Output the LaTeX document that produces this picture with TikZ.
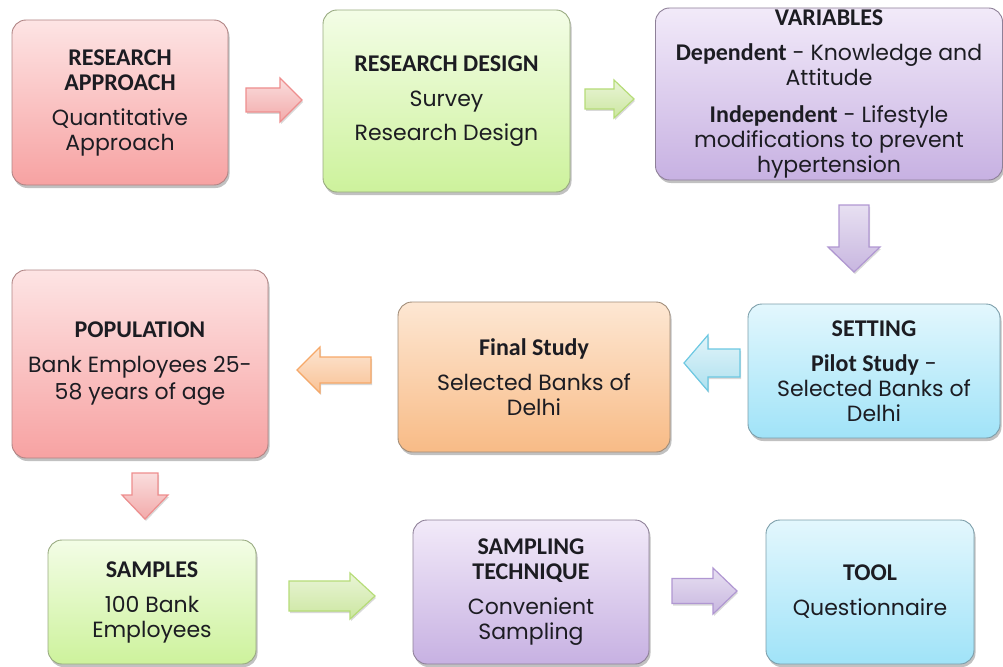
\documentclass[tikz,border=0pt]{standalone}
\usepackage{fontspec}
\setmainfont{Poppins}
\newfontfamily\headfont{Carlito}
\usetikzlibrary{shadows}

% box palettes: light top, deeper bottom, border
\definecolor{pinkT}{HTML}{FDE4E4}\definecolor{pinkB}{HTML}{F7A2A2}\definecolor{pinkD}{HTML}{B08484}
\definecolor{greenT}{HTML}{F3FDE6}\definecolor{greenB}{HTML}{CDF29C}\definecolor{greenD}{HTML}{98AA80}
\definecolor{purpT}{HTML}{F2EAF9}\definecolor{purpB}{HTML}{C7B1E2}\definecolor{purpD}{HTML}{8E8098}
\definecolor{blueT}{HTML}{E3F7FD}\definecolor{blueB}{HTML}{A0E3F8}\definecolor{blueD}{HTML}{7C9EAA}
\definecolor{orngT}{HTML}{FDE7D3}\definecolor{orngB}{HTML}{F8BB86}\definecolor{orngD}{HTML}{A08C78}
\definecolor{ink}{HTML}{1C1C22}
% block arrow colours
\definecolor{arPink}{HTML}{EE8E8E}
\definecolor{arGreen}{HTML}{B6DC78}
\definecolor{arPurple}{HTML}{B097D2}
\definecolor{arBlue}{HTML}{6CC8E2}
\definecolor{arOrange}{HTML}{F6A868}

% block arrow pointing along x: style, tail x, head base x, tip x, centre y, shaft half, head half
\newcommand{\harrow}[7]{%
  \draw[#1] (#2,#5-#6) -- (#3,#5-#6) -- (#3,#5-#7) -- (#4,#5)
    -- (#3,#5+#7) -- (#3,#5+#6) -- (#2,#5+#6) -- cycle;}
% block arrow pointing down: style, centre x, tail y, head base y, tip y, shaft half, head half
\newcommand{\varrow}[7]{%
  \draw[#1] (#2-#6,#3) -- (#2+#6,#3) -- (#2+#6,#4) -- (#2+#7,#4) -- (#2,#5)
    -- (#2-#7,#4) -- (#2-#6,#4) -- cycle;}

\newcommand{\hd}[1]{{\headfont\bfseries\fontsize{24}{26}\selectfont #1}}

\tikzset{
  box/.style={rounded corners=14pt, line width=0.9pt, align=center, inner sep=0pt,
    text=ink, font=\fontsize{22}{25}\selectfont,
    drop shadow={shadow xshift=1.5pt, shadow yshift=-3pt, opacity=0.35, fill=black!70}},
  pinkbox/.style={box, draw=pinkD, top color=pinkT, bottom color=pinkB},
  greenbox/.style={box, draw=greenD, top color=greenT, bottom color=greenB},
  purplebox/.style={box, draw=purpD, top color=purpT, bottom color=purpB},
  bluebox/.style={box, draw=blueD, top color=blueT, bottom color=blueB},
  orangebox/.style={box, draw=orngD, top color=orngT, bottom color=orngB},
  arr/.style={line width=1.2pt, line join=miter,
    drop shadow={shadow xshift=1pt, shadow yshift=-2pt, opacity=0.25, fill=black!60}},
  pinkar/.style={arr, draw=arPink, top color=arPink!30, bottom color=arPink!75},
  greenar/.style={arr, draw=arGreen, top color=arGreen!30, bottom color=arGreen!70},
  purplear/.style={arr, draw=arPurple, top color=arPurple!30, bottom color=arPurple!70},
  bluear/.style={arr, draw=arBlue, top color=arBlue!20, bottom color=arBlue!55},
  orangear/.style={arr, draw=arOrange, top color=arOrange!30, bottom color=arOrange!70},
}

\begin{document}
\begin{tikzpicture}[x=1pt, y=-1pt]
\useasboundingbox (0,0) rectangle (1003,666);

% boxes
\node[pinkbox, minimum width=216, minimum height=165] (approach) at (120,102.5)
  {\hd{RESEARCH}\\\hd{APPROACH}\\[10pt] Quantitative\\Approach};
\node[greenbox, minimum width=247, minimum height=182] (design) at (446.5,101)
  {\hd{RESEARCH DESIGN}\\[10pt] Survey\\[9pt] Research Design};
\node[purplebox, minimum width=347, minimum height=172] (variables) at (829,94)
  {\hd{VARIABLES}\\[10pt] \hd{Dependent} - Knowledge and\\ Attitude\\[12pt]
   \hd{Independent} - Lifestyle\\ modifications to prevent\\ hypertension};
\node[bluebox, minimum width=252, minimum height=134] (setting) at (874,371)
  {\hd{SETTING}\\[10pt] \hd{Pilot Study} -\\ Selected Banks of\\ Delhi};
\node[orangebox, minimum width=272, minimum height=150] (final) at (534,377)
  {\hd{Final Study}\\[10pt] Selected Banks of\\ Delhi};
\node[pinkbox, minimum width=256, minimum height=188] (population) at (140,364)
  {\hd{POPULATION}\\[10pt] Bank Employees 25-\\[2pt] 58 years of age};
\node[greenbox, minimum width=208, minimum height=124] (samples) at (152,602)
  {\hd{SAMPLES}\\[10pt] 100 Bank\\ Employees};
\node[purplebox, minimum width=236, minimum height=144] (technique) at (531,592)
  {\hd{SAMPLING}\\\hd{TECHNIQUE}\\[10pt] Convenient\\ Sampling};
\node[bluebox, minimum width=208, minimum height=144] (tool) at (870,592)
  {\hd{TOOL}\\[10pt] Questionnaire};

% block arrows between the boxes
\harrow{pinkar}{246}{280}{302}{100}{12}{22}
\harrow{greenar}{585}{614}{634}{99}{10}{19}
\varrow{purplear}{854}{205}{247}{272}{15}{26}
\harrow{bluear}{740}{708}{684}{363}{14}{28}
\harrow{orangear}{371}{320}{297}{370}{13}{23}
\varrow{pinkar}{145}{473}{495}{519}{13}{23}
\harrow{greenar}{289}{350}{375}{596}{15}{23}
\harrow{purplear}{672}{713}{737}{591}{12.5}{23}
\end{tikzpicture}
\end{document}
